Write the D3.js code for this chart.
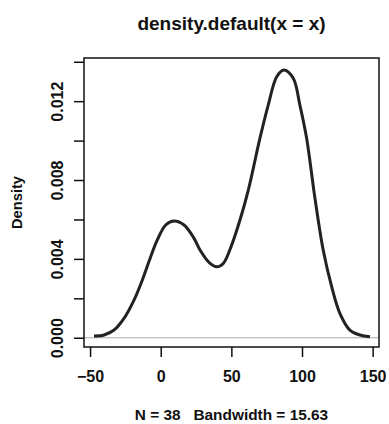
<!DOCTYPE html>
<html>
<head>
<meta charset="utf-8">
<script src="https://cdn.jsdelivr.net/npm/d3@7"></script>
<style>
  body { margin: 0; background: #fff; }
  text { font-family: "Liberation Sans", Arial, Helvetica, sans-serif; font-weight: bold; fill: #111; }
</style>
</head>
<body>
<div id="chart"></div>
<script>
// values
const densityX = [-47.2, -40.1, -33.0, -26.0, -18.9, -13.0, -7.1, -2.4, 3.5, 9.4, 16.5, 23.6, 27.8, 34.9, 39.6, 44.3, 50.2, 56.1, 62.0, 70.2, 76.1, 82.1, 87.2, 93.8, 98.5, 103.3, 109.1, 115.0, 121.0, 126.8, 133.9, 141.0, 148.1];
const densityY = [0.00009, 0.00014, 0.00039, 0.00098, 0.00191, 0.00293, 0.00411, 0.00496, 0.00572, 0.00592, 0.00572, 0.00504, 0.00445, 0.00377, 0.00360, 0.00377, 0.00470, 0.00597, 0.00749, 0.01011, 0.01180, 0.01324, 0.01358, 0.01316, 0.01180, 0.01011, 0.00711, 0.00445, 0.00259, 0.00124, 0.00039, 0.00014, 0.00005];
const xTicks = [-50, 0, 50, 100, 150];
const yTicks = [0, 0.002, 0.004, 0.006, 0.008, 0.010, 0.012, 0.014];
const yTickLabels = ['0.000', '', '0.004', '', '0.008', '', '0.012', ''];
const title = 'density.default(x = x)';
const subTitle = 'N = 38   Bandwidth = 15.63';
const yTitle = 'Density';

const width = 389, height = 424;
const margin = { top: 58, right: 10, bottom: 77, left: 84 };
const plotW = width - margin.left - margin.right;
const plotH = height - margin.top - margin.bottom;

const svg = d3.select('#chart').append('svg')
  .attr('width', width)
  .attr('height', height);

const x = d3.scaleLinear().domain([-54.3, 154.5]).range([margin.left, margin.left + plotW]);
const y = d3.scaleLinear().domain([-0.00047, 0.01419]).range([margin.top + plotH, margin.top]);

const data = densityX.map((d, i) => ({ x: d, y: densityY[i] }));

// zero line
svg.append('line')
  .attr('x1', margin.left).attr('x2', margin.left + plotW)
  .attr('y1', y(0)).attr('y2', y(0))
  .attr('stroke', '#aaa').attr('stroke-width', 1.2);

// density curve
svg.append('path')
  .datum(data)
  .attr('fill', 'none')
  .attr('stroke', '#222')
  .attr('stroke-width', 3)
  .attr('stroke-linejoin', 'round')
  .attr('d', d3.line().x(d => x(d.x)).y(d => y(d.y)).curve(d3.curveCatmullRom.alpha(0.5)));

// box
svg.append('rect')
  .attr('x', margin.left).attr('y', margin.top)
  .attr('width', plotW).attr('height', plotH)
  .attr('fill', 'none').attr('stroke', '#111').attr('stroke-width', 1.5);

// x axis
const xAxis = svg.append('g')
  .attr('transform', 'translate(0,' + (margin.top + plotH) + ')')
  .call(d3.axisBottom(x).tickValues(xTicks).tickSize(10).tickPadding(14).tickSizeOuter(0));
xAxis.select('.domain').remove();
xAxis.selectAll('line').attr('stroke', '#111').attr('stroke-width', 1.5);
xAxis.selectAll('text')
  .style('font-size', '16px')
  .attr('fill', '#111');

// y axis
const yAxis = svg.append('g')
  .attr('transform', 'translate(' + margin.left + ',0)')
  .call(d3.axisLeft(y).tickValues(yTicks).tickFormat((d, i) => yTickLabels[i]).tickSize(10).tickSizeOuter(0));
yAxis.select('.domain').remove();
yAxis.selectAll('line').attr('stroke', '#111').attr('stroke-width', 1.5);
yAxis.selectAll('text')
  .style('font-size', '16px')
  .attr('fill', '#111')
  .attr('x', null).attr('dy', null)
  .attr('text-anchor', 'middle')
  .attr('transform', 'translate(-21,0) rotate(-90)');

// titles
const cx = margin.left + plotW / 2;
svg.append('text')
  .attr('x', cx).attr('y', 30)
  .attr('text-anchor', 'middle')
  .style('font-size', '19px')
  .text(title);

svg.append('text')
  .attr('x', cx).attr('y', 420)
  .attr('text-anchor', 'middle')
  .style('font-size', '15.4px')
  .style('white-space', 'pre')
  .text(subTitle);

svg.append('text')
  .attr('transform', 'translate(22,' + (margin.top + plotH / 2) + ') rotate(-90)')
  .attr('text-anchor', 'middle')
  .style('font-size', '14.7px')
  .text(yTitle);
</script>
</body>
</html>
